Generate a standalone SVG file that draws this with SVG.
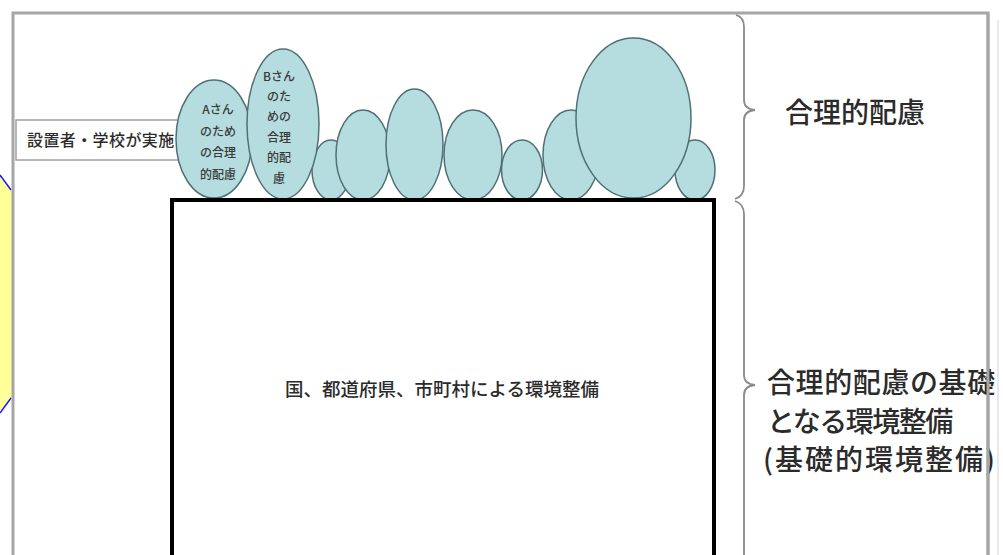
<svg xmlns="http://www.w3.org/2000/svg" width="1003" height="555" viewBox="0 0 1003 555">
<style>
.bub{fill:#b5dde0;stroke:#4f7074;stroke-width:1.5}
.t{font-family:"Noto Sans CJK JP",sans-serif;fill:#2b2b2b;font-weight:500}
.bt{font-family:"Noto Sans CJK JP",sans-serif;fill:#3a3a3a;font-size:12px;font-weight:500;text-anchor:middle}
.brace{fill:none;stroke:#8a8a8a;stroke-width:1.8}
</style>
<rect width="1003" height="555" fill="#fff"/>
<g id="yellow-shape">
<polygon points="-5,168 11,190 13,190 13,398 11,398 -5,420" fill="#ffff99"/>
<polyline points="0,175 11,190" fill="none" stroke="#1a1aff" stroke-width="1.5"/>
<polyline points="11,398 0,413" fill="none" stroke="#1a1aff" stroke-width="1.5"/>
</g>
<g id="frame">
<rect x="13" y="13" width="975" height="600" fill="none" stroke="#a6a6a6" stroke-width="3"/>
<line x1="998" y1="20" x2="998" y2="555" stroke="#e2e2e2" stroke-width="1.5"/>
</g>
<g id="label-box">
<rect x="16" y="120" width="170" height="40" fill="#fff" stroke="#a0a0a0" stroke-width="1.5"/>
<text class="t" x="27" y="146" font-size="16" letter-spacing="0.4">設置者・学校が実施</text>
</g>
<g id="bubbles">
<g id="bubble-a">
<ellipse class="bub" cx="214" cy="139" rx="38" ry="59"/>
<text class="bt"><tspan x="218" y="114">Aさん</tspan><tspan x="218" y="136">のため</tspan><tspan x="218" y="157">の合理</tspan><tspan x="218" y="179">的配慮</tspan></text>
</g>
<ellipse class="bub" cx="331" cy="170" rx="19" ry="30"/>
<g id="bubble-b">
<ellipse class="bub" cx="283" cy="124" rx="36" ry="75"/>
<text class="bt"><tspan x="279" y="81">Bさん</tspan><tspan x="279" y="101">のた</tspan><tspan x="279" y="121">めの</tspan><tspan x="279" y="142">合理</tspan><tspan x="279" y="162">的配</tspan><tspan x="279" y="183">慮</tspan></text>
</g>
<ellipse class="bub" cx="363" cy="155" rx="27" ry="45"/>
<ellipse class="bub" cx="414.5" cy="144.5" rx="28.5" ry="55.5"/>
<ellipse class="bub" cx="473" cy="155" rx="29" ry="45"/>
<ellipse class="bub" cx="522" cy="170" rx="20.5" ry="30"/>
<ellipse class="bub" cx="571" cy="155" rx="28" ry="45"/>
<ellipse class="bub" cx="695" cy="170" rx="20" ry="30"/>
<ellipse class="bub" cx="633.5" cy="118" rx="57.5" ry="80"/>
</g>
<g id="environment-box">
<rect x="172" y="200" width="542" height="420" fill="none" stroke="#000" stroke-width="4"/>
<text class="t" x="442" y="396" font-size="18.5" text-anchor="middle">国、都道府県、市町村による環境整備</text>
</g>
<g id="connectors">
<path class="brace" d="M736,15 Q744,17 744,27 L744,100 Q744,109 755,110 Q744,111 744,120 L744,186 Q744,196 735,199"/>
<path class="brace" d="M735,201 Q744,204 744,214 L744,375 Q744,384 755,385 Q744,386 744,395 L744,560"/>
</g>
<g id="label-reasonable">
<text class="t" x="785" y="123" font-size="28">合理的配慮</text>
</g>
<g id="label-basic">
<text class="t" font-size="28"><tspan x="767" y="393" letter-spacing="0.6">合理的配慮の基礎</tspan><tspan x="767" y="432" letter-spacing="-1.5">となる環境整備</tspan><tspan x="763" y="470" letter-spacing="2">(基礎的環境整備)</tspan></text>
</g>
<line x1="988" y1="13" x2="988" y2="555" stroke="#a6a6a6" stroke-width="3"/>
</svg>
